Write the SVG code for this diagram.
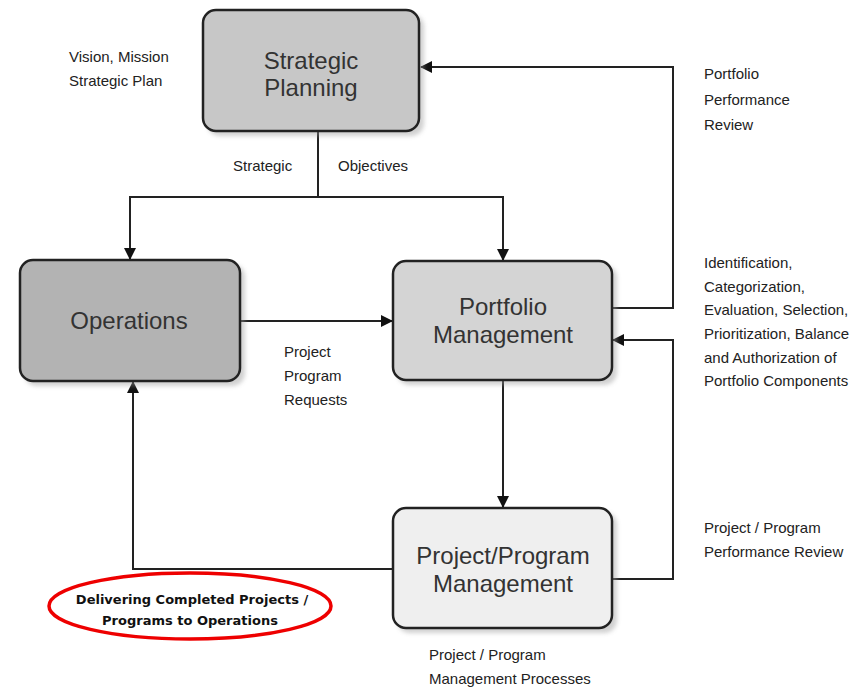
<svg xmlns="http://www.w3.org/2000/svg" width="865" height="688" viewBox="0 0 865 688">
<style>
.box{stroke:#222;stroke-width:2.5}
.shadow{fill:#999;opacity:0.45}
.ntext{font-family:"Liberation Sans",Arial,sans-serif;font-size:24px;fill:#333;text-anchor:middle}
.lbl{font-family:"Liberation Sans",Arial,sans-serif;font-size:15px;fill:#222}
.conn{fill:none;stroke:#222;stroke-width:2}
.oval{font-family:"DejaVu Sans",sans-serif;font-weight:bold;font-size:13px;fill:#111;text-anchor:middle}
</style>
<defs>
<marker id="arr" markerWidth="12" markerHeight="12" refX="11" refY="6" orient="auto" markerUnits="userSpaceOnUse">
<path d="M0,0 L12,6 L0,12 Z" fill="#111"/>
</marker>
<filter id="blur" x="-10%" y="-10%" width="120%" height="120%"><feGaussianBlur stdDeviation="2"/></filter>
</defs>
<rect width="865" height="688" fill="#fff"/>
<g id="connectors">
<path class="conn" d="M318,132 V197"/>
<path class="conn" d="M318,197 H130 V259" marker-end="url(#arr)"/>
<path class="conn" d="M318,197 H503 V260" marker-end="url(#arr)"/>
<path class="conn" d="M241,321 H392" marker-end="url(#arr)"/>
<path class="conn" d="M612,308 H673 V67 H421" marker-end="url(#arr)"/>
<path class="conn" d="M503,381 V507" marker-end="url(#arr)"/>
<path class="conn" d="M612,579 H673 V340 H613" marker-end="url(#arr)"/>
<path class="conn" d="M393,569 H133 V382" marker-end="url(#arr)"/>
</g>
<g id="strategic-planning">
<rect class="shadow" x="207" y="14" width="217" height="122" rx="13" filter="url(#blur)"/>
<rect class="box" x="203" y="10" width="216" height="121" rx="13" fill="#c7c7c7"/>
<text class="ntext" x="311" y="69">Strategic</text>
<text class="ntext" x="311" y="96">Planning</text>
</g>
<g id="operations">
<rect class="shadow" x="24" y="264" width="221" height="122" rx="13" filter="url(#blur)"/>
<rect class="box" x="20" y="260" width="220" height="121" rx="13" fill="#b3b3b3"/>
<text class="ntext" x="129" y="329">Operations</text>
</g>
<g id="portfolio-management">
<rect class="shadow" x="397" y="265" width="220" height="120" rx="13" filter="url(#blur)"/>
<rect class="box" x="393" y="261" width="219" height="119" rx="13" fill="#d4d4d4"/>
<text class="ntext" x="503" y="315">Portfolio</text>
<text class="ntext" x="503" y="343">Management</text>
</g>
<g id="project-program-management">
<rect class="shadow" x="397" y="512" width="220" height="121" rx="13" filter="url(#blur)"/>
<rect class="box" x="393" y="508" width="219" height="120" rx="13" fill="#efefef"/>
<text class="ntext" x="503" y="564">Project/Program</text>
<text class="ntext" x="503" y="592">Management</text>
</g>
<g id="labels">
<text class="lbl" x="69" y="62">Vision, Mission</text>
<text class="lbl" x="69" y="86">Strategic Plan</text>
<text class="lbl" x="233" y="171">Strategic</text>
<text class="lbl" x="338" y="171">Objectives</text>
<text class="lbl" x="704" y="79">Portfolio</text>
<text class="lbl" x="704" y="105">Performance</text>
<text class="lbl" x="704" y="130">Review</text>
<text class="lbl" x="704" y="268">Identification,</text>
<text class="lbl" x="704" y="292">Categorization,</text>
<text class="lbl" x="704" y="315">Evaluation, Selection,</text>
<text class="lbl" x="704" y="339">Prioritization, Balance</text>
<text class="lbl" x="704" y="363">and Authorization of</text>
<text class="lbl" x="704" y="386">Portfolio Components</text>
<text class="lbl" x="284" y="357">Project</text>
<text class="lbl" x="284" y="381">Program</text>
<text class="lbl" x="284" y="405">Requests</text>
<text class="lbl" x="704" y="533">Project / Program</text>
<text class="lbl" x="704" y="557">Performance Review</text>
<text class="lbl" x="429" y="660">Project / Program</text>
<text class="lbl" x="429" y="684">Management Processes</text>
</g>
<g id="delivering-note">
<ellipse cx="190" cy="606" rx="141" ry="33" fill="none" stroke="#e00" stroke-width="3.5"/>
<text class="oval" x="192" y="604">Delivering Completed Projects /</text>
<text class="oval" x="190" y="625">Programs to Operations</text>
</g>
</svg>
